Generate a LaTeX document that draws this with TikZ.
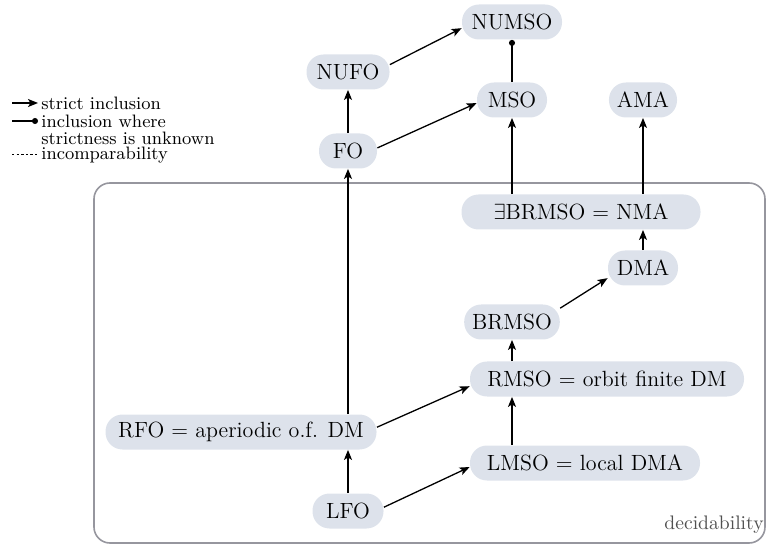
\documentclass[tikz,border=0pt]{standalone}
\usetikzlibrary{arrows.meta}
\definecolor{nodefill}{RGB}{221,226,235}
\definecolor{boxgray}{RGB}{150,150,158}
\definecolor{labgray}{RGB}{80,80,80}
\begin{document}
\begin{tikzpicture}[x=0.5pt,y=-0.5pt,
  cls/.style={draw=none, fill=nodefill, rounded corners=8.5pt, minimum height=17.5pt,
    inner xsep=4pt, inner ysep=0pt, font=\fontsize{11}{13}\selectfont},
  inc/.style={-{Stealth[length=5pt,width=4pt,inset=1.2pt]}, line width=0.65pt},
  unk/.style={-{Circle[length=3pt]}, line width=0.65pt},
  legtext/.style={font=\fontsize{9}{10}\selectfont, anchor=west, inner sep=0pt},
  incomp/.style={line width=0.5pt, dash pattern=on 1.2pt off 1.1pt}]
\useasboundingbox (0,0) rectangle (766,545);
% decidability region
\draw[boxgray, line width=0.8pt, rounded corners=8pt] (94,183) rectangle (765,543);
\node[font=\fontsize{9.8}{12}\selectfont, text=labgray, anchor=base east, inner sep=0pt] (dec) at (764,529) {decidability};
% nodes
\node[cls, minimum width=50pt] (NUMSO) at (512,22) {NUMSO};
\node[cls, minimum width=41.5pt] (NUFO) at (348,72) {NUFO};
\node[cls, minimum width=35pt] (MSO) at (512,100) {MSO};
\node[cls, minimum width=33.5pt] (AMA) at (643,100) {AMA};
\node[cls, minimum width=29pt] (FO) at (348,151) {FO};
\node[cls, minimum width=119.5pt] (NMA) at (581,212) {$\exists$BRMSO = NMA};
\node[cls, minimum width=35pt] (DMA) at (643,268) {DMA};
\node[cls, minimum width=42.5pt] (BRMSO) at (512,322) {BRMSO};
\node[cls, minimum width=137pt] (RMSO) at (607,379) {RMSO = orbit finite DM};
\node[cls, minimum width=135.5pt] (RFO) at (241,432) {RFO = aperiodic o.f. DM};
\node[cls, minimum width=115pt] (LMSO) at (585,463) {LMSO = local DMA};
\node[cls, minimum width=35.5pt] (LFO) at (348,511) {LFO};
% edges
\draw[inc] (FO) -- (NUFO);
\draw[inc] (NUFO.10) -- (NUMSO.187);
\draw[inc] (FO.6) -- (MSO.185);
\draw[unk] (MSO) -- (NUMSO);
\draw[inc] (MSO |- NMA.north) -- (MSO);
\draw[inc] (AMA |- NMA.north) -- (AMA);
\draw[inc] (FO |- RFO.north) -- (FO);
\draw[inc] (DMA) -- (DMA |- NMA.south);
\draw[inc] (BRMSO.16) -- (DMA.196);
\draw[inc] (RMSO.north -| BRMSO) -- (BRMSO);
\draw[inc] (RFO.2) -- (RMSO.183);
\draw[inc] (LMSO.north -| BRMSO) -- (BRMSO |- RMSO.south);
\draw[inc] (LFO) -- (LFO |- RFO.south);
\draw[inc] (LFO.6) -- (LMSO.182);
% legend
\coordinate (l1a) at (12,103); \coordinate (l1b) at (38,103);
\coordinate (l2a) at (12,121); \coordinate (l2b) at (38,121);
\coordinate (l3a) at (12,155); \coordinate (l3b) at (37,155);
\draw[inc] (l1a) -- (l1b);
\draw[unk] (l2a) -- (l2b);
\draw[incomp] (l3a) -- (l3b);
\node[legtext] (t1) at (41,103) {strict inclusion};
\node[legtext] (t2) at (41,121) {inclusion where};
\node[legtext] (t2b) at (41,138) {strictness is unknown};
\node[legtext] (t3) at (41,155) {incomparability};
\end{tikzpicture}
\end{document}
